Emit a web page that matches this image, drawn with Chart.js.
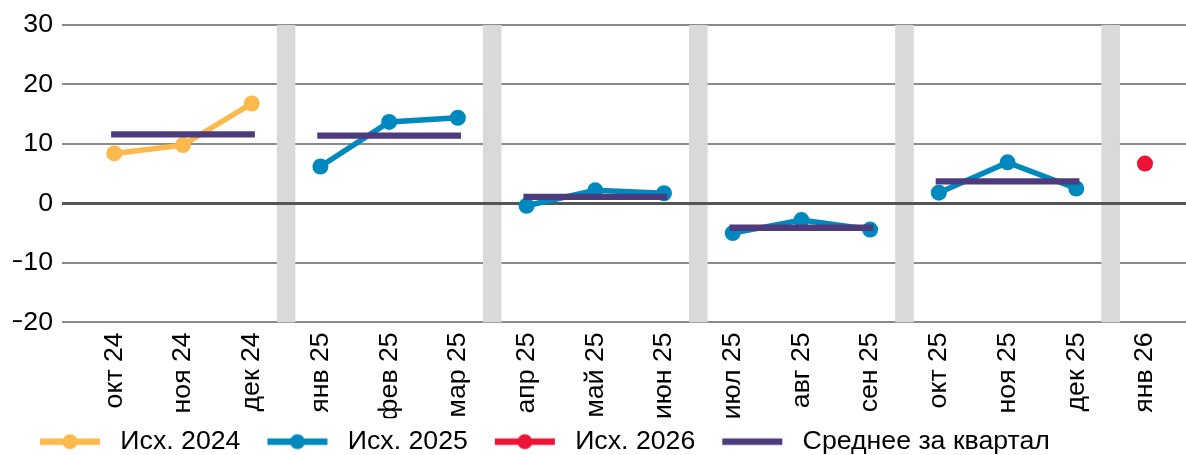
<!DOCTYPE html>
<html>
<head>
<meta charset="utf-8">
<script src="https://cdn.jsdelivr.net/npm/chart.js@4/dist/chart.umd.min.js"></script>
<style>
  html, body { margin: 0; padding: 0; background: #fff; }
  #wrap { width: 1186px; height: 455px; }
</style>
</head>
<body>
<div id="wrap"><canvas id="c" width="1186" height="455"></canvas></div>
<script>
// ---- data ----
const categories = ["окт 24","ноя 24","дек 24","янв 25","фев 25","мар 25","апр 25","май 25","июн 25","июл 25","авг 25","сен 25","окт 25","ноя 25","дек 25","янв 26"];
const quarterOf = [0,0,0,1,1,1,2,2,2,3,3,3,4,4,4,5];
const series2024 = [8.4, 9.8, 16.8];                      // окт 24 – дек 24
const series2025 = [6.2, 13.7, 14.4, -0.4, 2.2, 1.7, -5.0, -2.8, -4.4, 1.8, 6.9, 2.5]; // янв 25 – дек 25
const series2026 = [6.7];                                  // янв 26
const quarterAvg = [11.6, 11.4, 1.1, -4.1, 3.7];           // кварталы 0..4
const yTicks = [-20, -10, 0, 10, 20, 30];
const seriesNames = ["Исх. 2024", "Исх. 2025", "Исх. 2026", "Среднее за квартал"];

const C_ORANGE = "#FDB94B", C_BLUE = "#0089BF", C_RED = "#EC1337", C_PURPLE = "#4D3B7E";
const FONT = "'Liberation Sans', Arial, sans-serif";
const FS = 26.7;

// build points
const pts2024 = series2024.map((v, i) => ({x: i, y: v}));
const pts2025 = series2025.map((v, i) => ({x: i + 3, y: v}));
const pts2026 = series2026.map((v, i) => ({x: i + 15, y: v}));
const ptsAvg = [];
categories.forEach((c, i) => { const q = quarterOf[i]; if (q < quarterAvg.length) ptsAvg.push({x: i, y: quarterAvg[q]}); });

const sameQ = (ctx, color) => quarterOf[ctx.p0.parsed.x] === quarterOf[ctx.p1.parsed.x] ? color : 'rgba(0,0,0,0)';

const BOXW = 84;
function legendImg(color, dot) {
  const cv = document.createElement('canvas');
  cv.width = BOXW; cv.height = 18;
  const g = cv.getContext('2d');
  g.strokeStyle = color; g.lineWidth = 6.5;
  const x0 = 17, x1 = 77;
  g.beginPath(); g.moveTo(x0, 9); g.lineTo(x1, 9); g.stroke();
  if (dot) { g.fillStyle = color; g.beginPath(); g.arc((x0 + x1) / 2, 9, 7.5, 0, Math.PI * 2); g.fill(); }
  return cv;
}

const bandsPlugin = {
  id: 'bands',
  beforeDatasetsDraw(chart) {
    const {ctx, chartArea, scales} = chart;
    const xs = scales.x, ys = scales.y;
    ctx.save();
    ctx.fillStyle = '#D9D9D9';
    for (let i = 0; i < categories.length - 1; i++) {
      if (quarterOf[i] !== quarterOf[i + 1]) {
        const xm = (xs.getPixelForValue(i) + xs.getPixelForValue(i + 1)) / 2;
        ctx.fillRect(xm - 9.3, chartArea.top, 18.6, chartArea.bottom - chartArea.top);
      }
    }
    const y0 = ys.getPixelForValue(0);
    ctx.strokeStyle = '#555555'; ctx.lineWidth = 3;
    ctx.beginPath(); ctx.moveTo(chartArea.left, y0); ctx.lineTo(chartArea.right, y0); ctx.stroke();
    ctx.restore();
  }
};

new Chart(document.getElementById('c'), {
  type: 'line',
  data: {
    datasets: [
      { label: seriesNames[0], data: pts2024, borderColor: C_ORANGE, backgroundColor: C_ORANGE, borderWidth: 5.5,
        pointRadius: 8, pointBorderWidth: 0, pointBackgroundColor: C_ORANGE, order: 2 },
      { label: seriesNames[1], data: pts2025, borderColor: C_BLUE, backgroundColor: C_BLUE, borderWidth: 5.5,
        pointRadius: 8, pointBorderWidth: 0, pointBackgroundColor: C_BLUE, order: 2,
        segment: { borderColor: ctx => sameQ(ctx, C_BLUE) } },
      { label: seriesNames[2], data: pts2026, borderColor: C_RED, backgroundColor: C_RED, borderWidth: 5.5,
        pointRadius: 8, pointBorderWidth: 0, pointBackgroundColor: C_RED, order: 2 },
      { label: seriesNames[3], data: ptsAvg, borderColor: C_PURPLE, backgroundColor: C_PURPLE, borderWidth: 6.3,
        borderCapStyle: 'square', pointRadius: 0, order: 1,
        segment: { borderColor: ctx => sameQ(ctx, C_PURPLE) } }
    ]
  },
  options: {
    responsive: false,
    animation: false,
    layout: { autoPadding: false, padding: { left: 13, right: 0, top: 15, bottom: -10 } },
    plugins: {
      tooltip: { enabled: false },
      legend: {
        position: 'bottom',
        align: 'start',
        labels: {
          font: { family: FONT, size: FS },
          color: '#000',
          usePointStyle: true,
          pointStyleWidth: BOXW,
          boxHeight: FS,
          padding: 10,
          generateLabels: () => {
            const cols = [C_ORANGE, C_BLUE, C_RED, C_PURPLE];
            return seriesNames.map((n, i) => ({
              text: n, fillStyle: cols[i], strokeStyle: cols[i], lineWidth: 0, hidden: false,
              pointStyle: legendImg(cols[i], i < 3), datasetIndex: i, fontColor: '#000'
            }));
          }
        }
      }
    },
    scales: {
      x: {
        type: 'linear',
        min: -0.761, max: 15.597,
        grid: { display: false, drawTicks: false },
        border: { display: false },
        afterBuildTicks: (axis) => { axis.ticks = categories.map((c, i) => ({ value: i })); },
        afterFit: (axis) => { axis.height = 96; axis.paddingRight = 0; axis.paddingLeft = 0; },
        ticks: {
          font: { family: FONT, size: FS }, color: '#000',
          minRotation: 90, maxRotation: 90, padding: 10, autoSkip: false,
          callback: (v) => categories[v]
        }
      },
      y: {
        min: -20, max: 30,
        afterBuildTicks: (axis) => { axis.ticks = yTicks.map(v => ({ value: v })); },
        afterFit: (axis) => { axis.width = 49; },
        grid: { color: (c) => c.tick && c.tick.value === 0 ? 'rgba(0,0,0,0)' : '#8A8A8A', lineWidth: 2, drawTicks: false },
        border: { display: false },
        ticks: {
          font: { family: FONT, size: FS }, color: '#000', padding: 9,
          callback: (v) => v < 0 ? '\u2212' + Math.abs(v) : String(v)
        }
      }
    }
  },
  plugins: [bandsPlugin]
});
</script>
</body>
</html>
